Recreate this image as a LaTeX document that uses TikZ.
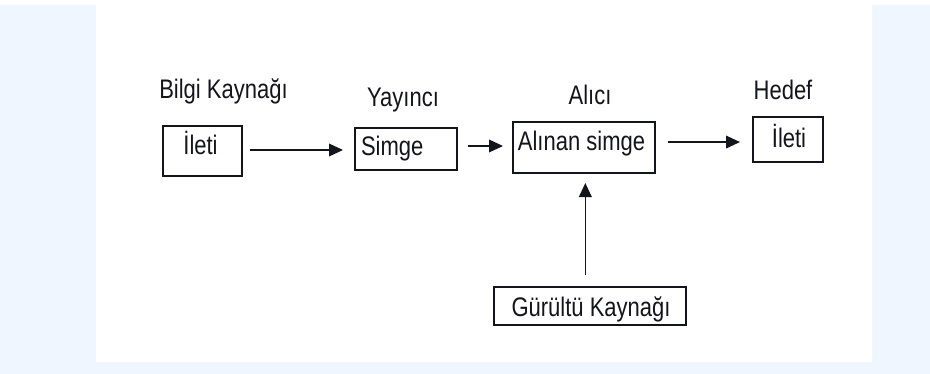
\documentclass[tikz,border=0pt]{standalone}
\usepackage{fontspec}
\setmainfont{Liberation Sans}
\usetikzlibrary{arrows.meta}
\definecolor{bgblue}{RGB}{239,246,255}
\definecolor{ink}{RGB}{20,20,28}
\newcommand{\tallt}[1]{\scalebox{1}[1.22]{#1}}
\tikzset{
  box/.style={draw=ink, line width=1.2pt, rectangle, inner sep=0pt, outer sep=0pt, fill=white},
  lbl/.style={inner sep=0pt, outer sep=0pt, anchor=base, text=ink, font=\fontsize{16.5}{18}\selectfont},
  arr/.style={draw=ink, line width=1.1pt, -{Triangle[length=10.5pt,width=9.5pt]}}
}
\begin{document}
\begin{tikzpicture}[x=0.75pt,y=-0.75pt]
\useasboundingbox (0,0) rectangle (930,374);
\fill[white] (0,0) rectangle (930,374);
\fill[bgblue] (0,5) rectangle (930,374);
\fill[white] (96,0) rectangle (872,362);

% boxes
\node[box, minimum width=59.25pt, minimum height=37.5pt] (b1) at (202.5,151) {};
\node[box, minimum width=76.5pt, minimum height=31.5pt] (b2) at (406,149) {};
\node[box, minimum width=106.5pt, minimum height=38.25pt] (b3) at (584,147.5) {};
\node[box, minimum width=52.5pt, minimum height=33.75pt] (b4) at (788,139.5) {};
\node[box, minimum width=144pt, minimum height=28.5pt] (b5) at (590,306) {};

% texts in boxes
\node[lbl] (t1) at (200.5,154) {\tallt{İleti}};
\node[lbl, anchor=base west] (t2) at (361,156) {\tallt{Simge}};
\node[lbl] (t3) at (581.5,151) {\tallt{Alınan simge}};
\node[lbl] (t4) at (789,147) {\tallt{İleti}};
\node[lbl] (t5) at (591,316) {\tallt{Gürültü Kaynağı}};

% headings
\node[lbl] (h1) at (223.5,99) {\tallt{Bilgi Kaynağı}};
\node[lbl] (h2) at (403,106.5) {\tallt{Yayıncı}};
\node[lbl] (h3) at (590,104.5) {\tallt{Alıcı}};
\node[lbl] (h4) at (783,99.5) {\tallt{Hedef}};

% connectors
\draw[arr] ([xshift=6pt,yshift=0.75pt]b1.east) -- ([xshift=-9pt,yshift=0.75pt]b1.east -| b2.west);
\draw[arr] ([xshift=8.25pt,yshift=2.25pt]b2.east) -- ([xshift=-7.5pt,yshift=2.25pt]b2.east -| b3.west);
\draw[arr] ([xshift=9.75pt,yshift=4.1pt]b3.east) -- ([xshift=-9.75pt,yshift=4.1pt]b3.east -| b4.west);
\draw[arr] ([xshift=-3.5pt,yshift=9pt]b5.north) -- ([xshift=1pt,yshift=-7.5pt]b3.south);
\end{tikzpicture}
\end{document}
